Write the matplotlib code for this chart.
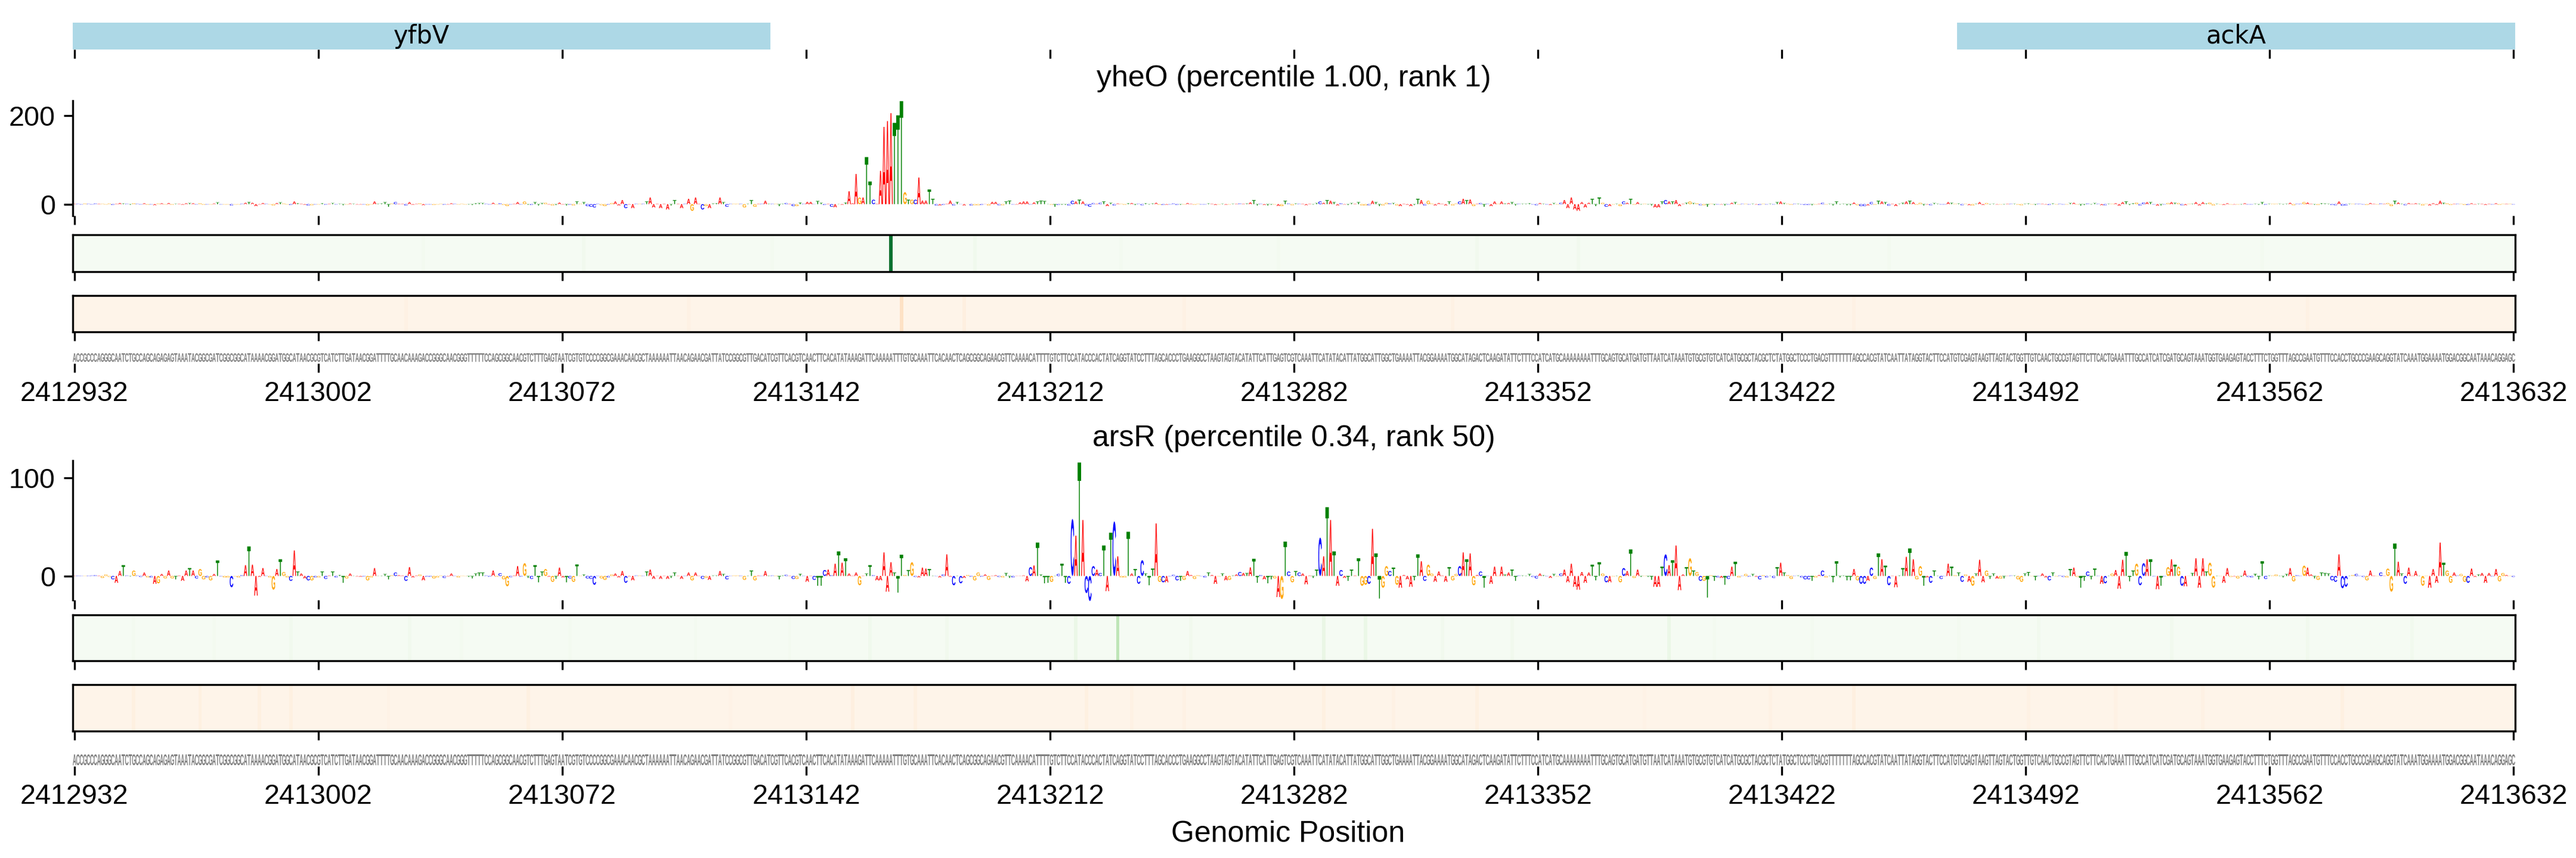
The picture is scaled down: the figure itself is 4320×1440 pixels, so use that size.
"""Attribution logos for yheO / arsR over the yfbV-ackA window."""

import numpy as np
import matplotlib
matplotlib.use('Agg')
import matplotlib.pyplot as plt
from matplotlib.font_manager import FontProperties
from matplotlib.patches import PathPatch
from matplotlib.path import Path
from matplotlib.textpath import TextPath
from matplotlib.transforms import Affine2D

plt.rcParams['font.family'] = ['Liberation Sans', 'DejaVu Sans']

W, H = 4320, 1440

SEQ = (
    'ACCGCCCAGGGCAATCTGCCAGCAGAGAGTAAATACGGCGATCGGCGGCATAAAACGGATGGCATAACGC'
    'GTCATCTTGATAACGGATTTTGCAACAAAGACCGGGCAACGGGTTTTTCCAGCGGCAACGTCTTTGAGTA'
    'ATCGTGTCCCCGGCGAAACAACGCTAAAAAATTAACAGAACGATTATCCGGCGTTGACATCGTTCACGTC'
    'AACTTCACATATAAAGATTCAAAAATTTGTGCAAATTCACAACTCAGCGGCAGAACGTTCAAAACATTTT'
    'GTCTTCCATACCCACTATCAGGTATCCTTTAGCACCCTGAAGGCCTAAGTAGTACATATTCATTGAGTCG'
    'TCAAATTCATATACATTATGGCATTGGCTGAAAATTACGGAAAATGGCATAGACTCAAGATATTCTTTCC'
    'ATCATGCAAAAAAAATTTGCAGTGCATGATGTTAATCATAAATGTGCGTGTCATCATGCGCTACGCTCTA'
    'TGGCTCCCTGACGTTTTTTTAGCCACGTATCAATTATAGGTACTTCCATGTCGAGTAAGTTAGTACTGGT'
    'TGTCAACTGCCGTAGTTCTTCACTGAAATTTGCCATCATCGATGCAGTAAATGGTGAAGAGTACCTTTCT'
    'GGTTTAGCCGAATGTTTCCACCTGCCCGAAGCAGGTATCAAATGGAAAATGGACGGCAATAAACAGGAGC'
)

ARSR_VALS = [
    .3, .4, .3, .3, .4, .5, .8, .4, -2, 1.5,
    -1, -3.5, -7, 5, 11, .5, -.5, 5.5, .5, -1,
    3.5, -1.5, -1.5, -8, -7.5, 2, -2.5, 5.5, -2.5, -3.5,
    .5, -5, 5.5, 8, 5.5, -2.5, 7, -3.5, -1.5, -4.5,
    2, 15.8, -.5, -1.5, -1.5, -11.5, -.5, -1.5, .8, 11,
    30, 11.5, -20, -1, 8, .3, -1.5, -14, 7, 17,
    4, -1.5, -5, 26, 4.5, 2.5, -2.5, -4.5, -4.5, -1.5,
    -1.5, 4.5, -3, .5, 4.5, -1.5, 1, -7, -2.5, 2.5,
    .2, -.5, -.8, -.6, -4.5, -1.5, 8, .2, .3, 2,
    -3.5, .8, 3.5, .8, .5, -5, 9, -1.5, .5, 1.5,
    -4.5, -.8, -.8, -2.5, -1.5, .5, -2, -.5, 2.5, .3,
    -1.5, .3, -.3, -1, -2.5, 2.5, 3.5, 3.5, .5, -.8,
    5.5, -.8, 2.8, -3.5, -10.5, -1.2, .5, 10, -.8, 13,
    -2, -3, 11, -6.5, 4.5, 7, -.8, -6, -3, 8.5,
    -1.5, -6.5, -2.5, -6, 11.7, .3, 1.5, -2.5, -3, -9,
    .3, -2.5, -4, -1.5, 1.5, 2.5, -1.5, 5, -7, -.5,
    -4.5, .5, .5, .3, 4.5, 6.5, -3, .3, -3, .3,
    -3, -2, 3.5, .3, -3, .3, 3.5, -4.5, 3.5, .3,
    -3, -2, -4, .5, .5, 5, 2, -3.5, .3, .5,
    .5, .4, -4, .3, 5.5, -4.5, .5, .3, 5, .4,
    .5, .4, -3.5, .5, 1.2, .3, -3, -3, 2.2, .3,
    -6, .3, -4, -10, -10, 6, 6.5, .8, 12.5, 25,
    13.5, 18, 2.5, .3, 3.5, -9.5, .3, 2.5, 11, .8,
    -4.5, -4.5, 24, -16, 14, 3.5, -17, 21.6, 1, 6,
    14, -1, -1.5, 8.5, 7.5, 7, .3, -.3, -1.5, 1.5,
    22, -.8, -9.5, .3, -7.5, -2, 1, -.8, -4.5, 3.5,
    -.8, 1.5, -4, .3, .8, -1, -1.5, 3, -2, -1.5,
    .2, .2, .6, -5.5, 9, 10.7, 34, 1.5, -7.5, -7,
    -6, -.3, 2, 12.5, -7, -8, 58, 41, 115.5, 57,
    -17.5, -25.5, 10, 6.5, 3, 31, -15.5, 44, 55.5, 20,
    -1.5, -1.5, 45, 2.5, 7, -8, 16, 2.5, -9.5, 7.5,
    53.5, -6, -6.5, -6.5, -.5, 1.2, -4.5, -5, -4, 5,
    1, -3, .8, -.3, -1.5, 3.5, 1, -8, -.5, 2.5,
    -4.5, -4, .5, 1.5, 4, 3, 3, 8.7, 17.5, -7,
    1, -3.5, -7.5, -3.5, -2.5, -21.5, -23.5, 35, 4.5, -6.5,
    5, 3.5, 2.5, -8.5, .5, -2, 6.5, 39, 20, 70,
    57, 25, -10, 6, -2, -5, 6.5, .5, 18, -10,
    -9, -8, 48, 23, -23, -12, 10, 5, 8.5, -9,
    -12, 1, -3.5, -11, -4.5, 22, 15, -5, 11.5, 2.5,
    -6, 4.5, .5, -6, 9, -4.5, 2, 10, 24, 17,
    23, -9.5, 1, 4.5, -12, .3, -8, 9.5, .3, 9.5,
    1.5, 3.5, 6.5, -5, .5, .5, .3, 2, -1, -2.5,
    2.5, .8, -.4, -2, 2, -.5, 2.5, 6.5, -6.5, 12.5,
    -11, -14, 4, -7, 3.5, 11.5, -4.5, 14, 2.5, -6.5,
    -6.5, -.5, .3, -6.5, 8, 5, 27, -2, 6.5, -1,
    .3, -1, -4, -11, -11, 9.5, 22, 11, 16, 31,
    -14.5, 1.5, 9, 18, 5.5, 4, -5, -5, -22, .8,
    -5, -1.5, -2, -9, -3, 9.5, 14.5, -1.5, .3, 2,
    -.8, 2, -.8, -3.5, .8, -1.5, .3, -2, 9, 13.5,
    3.5, 1, -3, .3, .5, -1.5, -3.5, -3.5, -5, -1.5,
    1, 5.5, -1.5, .3, -6.5, 15, -1.5, .5, -4.5, -4.5,
    7, -4.5, -8, -8, -5, 8.5, -3, 23, 17, 10.5,
    -9.5, .3, -11.5, .5, 8, 19.5, 28, 17, -3.5, 10,
    -10, -1.5, -7, 5.5, .3, -3, -.3, 12.5, 9.5, .8,
    3.5, -6, 1.5, -6, -10, 2.5, 16.5, -6.5, 5.5, -3,
    2.5, -2.8, -2.8, -2.5, .2, .5, .5, -3.5, -6, 2.5,
    4, -.3, -4.5, .3, 2.5, -1.5, -4.5, 3.5, -.5, .5,
    -1, -1.5, 7, 8.5, -1, -12, -5, 4.5, -3.5, 7.5,
    .3, -8, -7.5, .3, 2.5, 6, -13, 16.5, 24.5, -5.5,
    5.5, 12.5, -9.5, 13, 17, 17, -.5, -13.5, -10, -.5,
    9, 17, 11.5, 9.5, -10, -10.5, .2, 3, 18, -12,
    18, 4.5, 13.5, -12, .3, -.3, -7, 8, -1, -.5,
    -2.5, -.8, 5.5, -1, -1.5, 2.2, -3.5, 15, -3, .5,
    .5, 1.5, .3, -1.5, 2, 8, -5.5, .8, .3, 10.5,
    8.5, 1.5, -2.5, -4, 3.5, 3, 2.5, -4.5, -6, 22,
    -12.5, -11, .3, 1, 2, .3, -1, -4.5, 5.5, .4,
    -.3, 3.5, .3, 7.5, -16, 33, 14.5, 2.5, -8, 8.5,
    .3, 5, .3, -10, .3, -12, 7, -7, 34, 13.5,
    5.5, -7, 3.5, .5, 2, -6, -7, 7.5, -1, 1.5,
    3, -7, 3, -.5, 7, -5.5, 3, 1, .3, -1,
]

YHEO_VALS = [
    1, 1, -1, 1.5, 1, -1, 1.5, 1, 1, -1,
    1.5, -2, 1, 2.5, 1.5, 1, -1.5, 2, 1, -1,
    2, -1.5, -1, -2.5, 1.5, 2, -1, 2.5, -1.5, 1,
    1, -1.5, 2, 2.5, 2, -1, 2, -1.5, -1, -1,
    1.5, 4, -1, -1, -1, -3, -1, -1, 1, 3,
    5, 3, -4.5, -1, 2.5, 1, -1, -3, 2.5, 4,
    1.5, -1, -2, 6, 2, 1, -1.5, -3, -2.5, -1,
    -1, 2, -1.5, 1, 2.5, -1, 1, -2.5, -1, 1.5,
    1, -1, -1, -1, -2.5, -1, 6, 1, 1.5, 4.5,
    -6, 1.5, 4.5, 1, 1, -3, 4.5, -1.5, 1, 2,
    -2.5, -1, -1, -2, -1, 1, -1.5, -1, 2, 1,
    -1, 1, -1, -1, -2, 2, 2.5, 2.5, 1, -1,
    3, -1, 2, -2, -4.5, -1, 1, 4.5, -1, 6,
    -1.5, -2, 4.5, -3, 2.5, 3, -1, -3, -2, 3.5,
    -1, -3, -1.5, -3, 6, 1, 4.5, -4.5, -6, -7.5,
    1, -2.5, -4.5, -1.5, 2.5, 6, -3, 9, -9, -1,
    -9, 1, 1, 1, 6, 15, -7.5, 1, -9, 1,
    -12, -3, 9, 1, -9, 1, 12, -15, 15, 1,
    -12, -4.5, -9, 1.5, 2, 15, 4.5, -6, 1, 1,
    1, 1, -7.5, 1, 9, -6, 1, 1, 7.5, 1,
    1, 1, -4.5, 1, 2.5, 1, -4.5, -4.5, 3.5, 1,
    5, 5, -.5, 7, 3, -2, 1, -6, -7, .5,
    -1.5, 3.5, 29, 2, 68, 15, 15, 106, 51, 10,
    1, 75, 174, 187, 205, 183, 200, 232, 27, 10,
    10, 10, 60, 8, 8, 33, 12, -3, -3, -2,
    1, 8, -3, 5, .5, -3, .3, -3, -2.5, -2.5,
    -2, .4, -3, 5, 5, -2.5, -2.5, 6, 8, -1,
    -1, 4, 6, 6, -1, 4, 6, 8, 7, .5,
    -1.5, -6, -2, -1.5, -1.5, -3, 7.5, 6, 10, 6,
    -3, -6, 2.5, 1, 3, 6, -4.5, 3, -3, 1.5,
    1, -1.5, 2, 2.5, -2, 1, -2.5, 2, -1, 1.5,
    3, -1.5, -2, -1.5, -1, 1.5, -2, -1.5, -1, 2.5,
    1, -1.5, 1, -1, -1, 1.5, 1, -2, -1, 1,
    -1.5, -1, 1, 1, 1.5, 1, 1.5, 4, 9, -3,
    1, -2, -3, -1.5, -1, -4, -4.5, 7.5, 1.5, -2.5,
    1.5, 1, 1, -2.5, 1, -1, 2.5, 6, 3, 9,
    7.5, 4.5, -3, 2, -1, -2, 2.5, 1, 4.5, -3,
    -3, -2.5, 7.5, 4.5, -4.5, -3, 3, 2, 2.5, -3,
    -4.5, 1, -1.5, -4.5, -2, 12, 9, -3, 7.5, 1.5,
    -3, 2.5, 1, -3, 6, -3, 1.5, 6, 12, 9,
    10.5, -4.5, 1, 2.5, -6, 1, -4.5, 6, 1, 6,
    1.5, 2.5, 4.5, -3, 1, 1, 1, 2, -1, -2.5,
    2.5, 1, -1, -2, 2.5, -1, 3, 9, -9, 15,
    -12, -15, 4.5, -7.5, 3, 12, -4.5, 15, 3, -6,
    -4.5, -1, 1, -4.5, 6, 3, 12, -1.5, 4.5, -1,
    1, -1, -3, -7.5, -7.5, 6, 9, 6, 6, 9,
    -4.5, 1, 3, 6, 2.5, 2, -2.5, -2.5, -6, 1,
    -2, -1, -1, -3, -1, 3, 4.5, -1, 1, 1,
    -1, 1, -1, -2, 1, -1, 1, -1, 4.5, 6,
    2.5, 1, -1.5, 1, 1, -1, -2, -2, -2.5, -1,
    1, 3, -1, 1, -3, 6, -1, 1, -2.5, -2.5,
    3.5, -2.5, -4.5, -4.5, -3, 4.5, -1.5, 7.5, 6, 4.5,
    -3.5, 1, -4.5, 1, 3, 6, 7.5, 4.5, -1.5, 3,
    -3, -1, -2.5, 2.5, 1, -1, -1, 4.5, 3, 1,
    1.5, -2.5, 1, -2.5, -3, 1, 4.5, -2, 2.5, -1,
    1, -1, -1, -1, 1, 1, 1, -1.5, -2.5, 1,
    1.5, -1, -2, 1, 1, -1, -2, 1.5, -1, 1,
    -1, -1, 2.5, 3, -1, -3.5, -2, 1.5, -1, 2.5,
    1, -2.5, -2.5, 1, 1, 2, -3.5, 4.5, 6, -2,
    2, 3.5, -3, 3.5, 4.5, 4.5, -1, -3.5, -3, -1,
    2.5, 4.5, 3, 2.5, -2.5, -2.5, 1, 1, 4.5, -3,
    4.5, 1.5, 3.5, -3, 1, -1, -2, 2, -1, -1,
    -1, -1, 2, -1, -1, 1, -1.5, 4.5, -1.5, 1,
    1, 1, 1, -1, 1, 3, -2.5, 1, 1, 4.5,
    3.5, 1, -1.5, -2, 2, 1.5, 1, -2, -2.5, 6,
    -3.5, -3, 1, 1, 1, 1, -1, -2, 2.5, 1,
    -1, 1.5, 1, 2.5, -4.5, 7.5, 3.5, 1, -2.5, 2.5,
    1, 2, 1, -3, 1, -3, 2, -2, 7.5, 3,
    2, -2, 1, 1, 1, -2, -2, 2, -1, 1,
    1, -2, 1, -1, 2, -1.5, 1, 1, 1, -1,
]

# per-base activity strips: only the visible stripes
HEAT_BASE = 0.01
YHEO_GREEN_POS = [100, 146, 200, 234, 258, 300, 345, 402, 431, 520, 627]
YHEO_GREEN_VALS = [.03, .04, .03, .85, .05, .03, .03, .04, .04, .03, .03]
YHEO_ORANGE_POS = [0, 95, 176, 237, 255, 318, 395, 510, 640]
YHEO_ORANGE_VALS = [.02, .03, .03, .15, .05, .03, .03, .03, .03]
ARSR_GREEN_POS = [17, 40, 62, 96, 111, 142, 178, 205, 228, 250, 287, 299, 320, 358, 370, 392, 412,
                  457, 470, 498, 540, 563, 601, 640, 670]
ARSR_GREEN_VALS = [.03, .03, .04, .04, .03, .03, .03, .03, .05, .04, .08, .28, .04, .09, .08, .04,
                   .04, .08, .03, .03, .03, .04, .04, .04, .04]
ARSR_ORANGE_POS = [17, 36, 53, 62, 90, 130, 188, 223, 241, 290, 303, 318, 358, 378, 402, 450, 486,
                   510, 560, 585, 610, 650]
ARSR_ORANGE_VALS = [.04, .04, .04, .04, .02, .04, .02, .05, .04, .04, .03, .03, .04, .03, .04, .02,
                    .03, .05, .03, .03, .03, .04]

GENE_NAMES = ['yfbV', 'ackA']
GENE_START = [0, 540]
GENE_END = [200, 700]

TICK_LABELS = ['2412932', '2413002', '2413072', '2413142', '2413212', '2413282',
               '2413352', '2413422', '2413492', '2413562', '2413632']
TICK_POS = np.linspace(0, 699, 11)

LETTER_COLORS = {'A': 'red', 'C': 'blue', 'G': 'orange', 'T': 'green'}
LEFT, RIGHT = 122, 4218

# unit-box outline of each base
FP = FontProperties(family='Liberation Sans', weight='bold')
GLYPHS = {}
for base in 'ACGT':
    tp = TextPath((0, 0), base, size=1, prop=FP)
    box = tp.get_extents()
    GLYPHS[base] = tp.transformed(
        Affine2D().translate(-box.x0, -box.y0).scale(1 / box.width, 1 / box.height))


def box_axes(fig, top, bottom):
    return fig.add_axes([LEFT / W, 1 - bottom / H, (RIGHT - LEFT) / W, (bottom - top) / H])


def set_xticks(ax, labels=False):
    ax.set_xlim(-0.5, 699.5)
    ax.set_xticks(TICK_POS)
    ax.set_xticklabels(TICK_LABELS if labels else [], fontsize=11.2)


def draw_letters(ax, letters, heights, bottoms, colors):
    """Stretch each base into its cell, one compound patch per colour."""
    paths = {}
    for i, (b, h, y0) in enumerate(zip(letters, heights, bottoms)):
        if h <= 0:
            continue
        tr = Affine2D().scale(1.0, h).translate(i - 0.5, y0)
        paths.setdefault(b, []).append(GLYPHS[b].transformed(tr))
    for b, plist in paths.items():
        ax.add_patch(PathPatch(Path.make_compound_path(*plist), fc=colors[b], lw=0, clip_on=False))


def logo_axes(fig, top, bottom, vals, ylim, yticks):
    ax = box_axes(fig, top, bottom)
    v = np.array(vals, dtype=float)
    draw_letters(ax, SEQ, np.abs(v), np.minimum(v, 0), LETTER_COLORS)
    ax.set_ylim(*ylim)
    ax.set_yticks(yticks)
    ax.tick_params(axis='y', labelsize=11.2)
    set_xticks(ax)
    for s in ['top', 'right', 'bottom']:
        ax.spines[s].set_visible(False)
    return ax


def heat_axes(fig, top, bottom, pos, vals, cmap):
    ax = box_axes(fig, top, bottom)
    row = np.full(700, HEAT_BASE)
    row[pos] = vals
    ax.imshow(row[None, :], aspect='auto', cmap=cmap, vmin=0, vmax=1, interpolation='nearest')
    ax.set_yticks([])
    set_xticks(ax)
    return ax


def seq_axes(fig, top, bottom, y0, y1):
    ax = box_axes(fig, top, bottom)
    grey = {b: '#808080' for b in 'ACGT'}
    draw_letters(ax, SEQ, [y1 - y0] * 700, [y0] * 700, grey)
    ax.set_ylim(0, 1)
    ax.set_yticks([])
    set_xticks(ax, labels=True)
    for s in ax.spines.values():
        s.set_visible(False)
    return ax


def main():
    assert len(SEQ) == 700 and len(ARSR_VALS) == 700 and len(YHEO_VALS) == 700
    fig = plt.figure(figsize=(W / 300, H / 300), dpi=300)

    # gene track
    ax = box_axes(fig, 38, 83)
    for name, s, e in zip(GENE_NAMES, GENE_START, GENE_END):
        ax.barh(0.5, e - s, left=s - 0.5, height=1, color='lightblue')
        ax.text((s + e) / 2 - 0.5, 0.5, name, ha='center', va='center', fontsize=10,
                family='DejaVu Sans')
    ax.set_ylim(0, 1)
    ax.set_yticks([])
    set_xticks(ax)
    for s in ax.spines.values():
        s.set_visible(False)

    # yheO
    fig.text(2170 / W, 1 - 132 / H, 'yheO (percentile 1.00, rank 1)', ha='center', va='center',
             fontsize=12)
    logo_axes(fig, 169, 362, YHEO_VALS, (-26, 233), [0, 200])
    heat_axes(fig, 394, 456, YHEO_GREEN_POS, YHEO_GREEN_VALS, 'Greens')
    heat_axes(fig, 496, 557, YHEO_ORANGE_POS, YHEO_ORANGE_VALS, 'Oranges')
    seq_axes(fig, 592, 610, 0.15, 0.95)

    # arsR
    fig.text(2170 / W, 1 - 736 / H, 'arsR (percentile 0.34, rank 50)', ha='center', va='center',
             fontsize=12)
    logo_axes(fig, 773, 1007, ARSR_VALS, (-24.5, 117.5), [0, 100])
    heat_axes(fig, 1032, 1109, ARSR_GREEN_POS, ARSR_GREEN_VALS, 'Greens')
    heat_axes(fig, 1149, 1227, ARSR_ORANGE_POS, ARSR_ORANGE_VALS, 'Oranges')
    seq_axes(fig, 1265, 1286, 0.08, 0.95)

    fig.text(2160 / W, 1 - 1400 / H, 'Genomic Position', ha='center', va='center', fontsize=12)
    fig.savefig('out.png', dpi=300)


if __name__ == '__main__':
    main()
